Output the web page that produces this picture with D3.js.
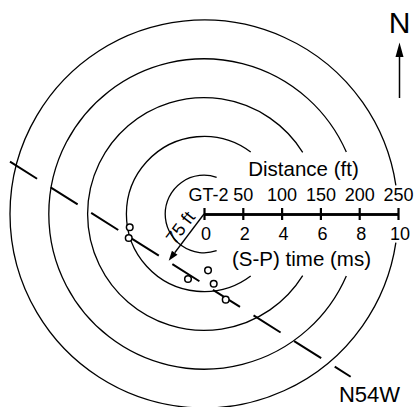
<!DOCTYPE html>
<html>
<head>
<meta charset="utf-8">
<script src="https://cdn.jsdelivr.net/npm/d3@7"></script>
<style>
  html, body { margin: 0; padding: 0; background: #fff; }
  svg { display: block; }
  text { font-family: "Liberation Sans", Arial, Helvetica, sans-serif; fill: #000; }
</style>
</head>
<body>
<svg id="chart" width="415" height="407"></svg>
<script>
// ---- data (feet, east / north of GT-2) ----
const rings = [50, 100, 150, 200, 250];
const ringGapDeg = [71, 53, 32, 23.5, 8.5];
const distTicks = [0, 50, 100, 150, 200, 250];
const distLabels = ["GT-2", "50", "100", "150", "200", "250"];
const timeTicks = [0, 2, 4, 6, 8, 10];
const eventEast = [-95.7, -97.0, -20.6, 5.2, 12.5, 28.0];
const eventNorth = [-17.1, -30.9, -83.8, -72.6, -89.8, -110.4];
const faultEast = [-250, 189];
const faultNorth = [67.4, -209.7];
const offsetEast = [0, -45.5];
const offsetNorth = [0, -60.2];
const offsetLabel = "75 ft";
const faultLabel = "N54W";
const distTitle = "Distance (ft)";
const timeTitle = "(S-P) time (ms)";

// ---- layout ----
const svg = d3.select("#chart");
const cx = 204, cy = 214, R = 194;
const dist = d3.scaleLinear().domain([0, 250]).range([0, R]);
const time = d3.scaleLinear().domain([0, 10]).range([0, R]);
const px = e => cx + dist(e);
const py = n => cy - dist(n);

// rings with gap on the right side
const ringG = svg.append("g");
rings.forEach((r, i) => {
  const g = ringGapDeg[i] * Math.PI / 180;
  const p = d3.path();
  const rr = dist(r);
  p.moveTo(cx + rr * Math.cos(g), cy + rr * Math.sin(g));
  p.arc(cx, cy, rr, g, 2 * Math.PI - g, false);
  ringG.append("path").attr("d", p.toString())
    .attr("fill", "none").attr("stroke", "#000").attr("stroke-width", 1.3);
});

// fault trace (dashed)
const line = d3.line().x(d => px(d[0])).y(d => py(d[1]));
svg.append("path")
  .attr("d", line(d3.zip(faultEast, faultNorth)))
  .attr("fill", "none").attr("stroke", "#000").attr("stroke-width", 2)
  .attr("stroke-dasharray", "32 16");

// offset arrow (75 ft)
const x0 = px(offsetEast[0]), y0 = py(offsetNorth[0]);
const x1 = px(offsetEast[1]), y1 = py(offsetNorth[1]);
const ang = Math.atan2(y1 - y0, x1 - x0);
const hl = 10, hw = 3.5;
const bx = x1 - hl * Math.cos(ang), by = y1 - hl * Math.sin(ang);
svg.append("line").attr("x1", x0).attr("y1", y0).attr("x2", bx).attr("y2", by)
  .attr("stroke", "#000").attr("stroke-width", 1.3);
svg.append("path")
  .attr("d", `M${x1},${y1}L${bx + hw * Math.sin(ang)},${by - hw * Math.cos(ang)}L${bx - hw * Math.sin(ang)},${by + hw * Math.cos(ang)}Z`)
  .attr("fill", "#000");
// label along the arrow
{
  const along = 25, perp = 4.5;
  const dx = Math.cos(ang), dy = Math.sin(ang);
  const nx = dy, ny = -dx;
  const deg = ang * 180 / Math.PI + 180;
  svg.append("text")
    .attr("transform", `translate(${x0 + along * dx - perp * Math.abs(nx)},${y0 + along * dy - perp * Math.abs(ny)}) rotate(${deg})`)
    .attr("text-anchor", "middle").attr("font-size", 18).text(offsetLabel);
}

// axes
const axTop = svg.append("g").attr("transform", `translate(${cx},${cy})`)
  .call(d3.axisTop(dist).tickValues(distTicks).tickFormat((d, i) => distLabels[i])
    .tickSizeInner(6).tickSizeOuter(0).tickPadding(7));
const axBot = svg.append("g").attr("transform", `translate(${cx},${cy})`)
  .call(d3.axisBottom(time).tickValues(timeTicks).tickFormat(d3.format("d"))
    .tickSizeInner(6).tickSizeOuter(0).tickPadding(7));
[axTop, axBot].forEach(a => {
  a.attr("font-size", 18).attr("font-family", '"Liberation Sans", Arial, Helvetica, sans-serif');
  a.select(".domain").attr("stroke-width", 2.5);
  a.selectAll(".tick line").attr("stroke-width", 2.2);
  a.selectAll(".tick text").attr("fill", "#000");
});
axTop.selectAll(".tick text").filter((d, i) => i === 0).attr("dx", 4);
axBot.selectAll(".tick text").attr("dx", 1.5);

svg.append("text").attr("x", 303.5).attr("y", 176).attr("text-anchor", "middle")
  .attr("font-size", 20.5).text(distTitle);
svg.append("text").attr("x", 301.5).attr("y", 266).attr("text-anchor", "middle")
  .attr("font-size", 20.5).text(timeTitle);

// events
svg.append("g").selectAll("circle").data(d3.zip(eventEast, eventNorth)).join("circle")
  .attr("cx", d => px(d[0])).attr("cy", d => py(d[1])).attr("r", 3.3)
  .attr("fill", "#fff").attr("stroke", "#000").attr("stroke-width", 1.5);

// fault label
svg.append("text").attr("x", 369.5).attr("y", 402).attr("text-anchor", "middle")
  .attr("font-size", 22).text(faultLabel);

// north arrow
svg.append("line").attr("x1", 399.5).attr("y1", 98).attr("x2", 399.5).attr("y2", 55)
  .attr("stroke", "#000").attr("stroke-width", 1.5);
svg.append("path").attr("d", "M399.5,42.5L395.5,57L403.5,57Z").attr("fill", "#000");
svg.append("text").attr("x", 399.5).attr("y", 33).attr("text-anchor", "middle")
  .attr("font-size", 30).text("N");
</script>
</body>
</html>
